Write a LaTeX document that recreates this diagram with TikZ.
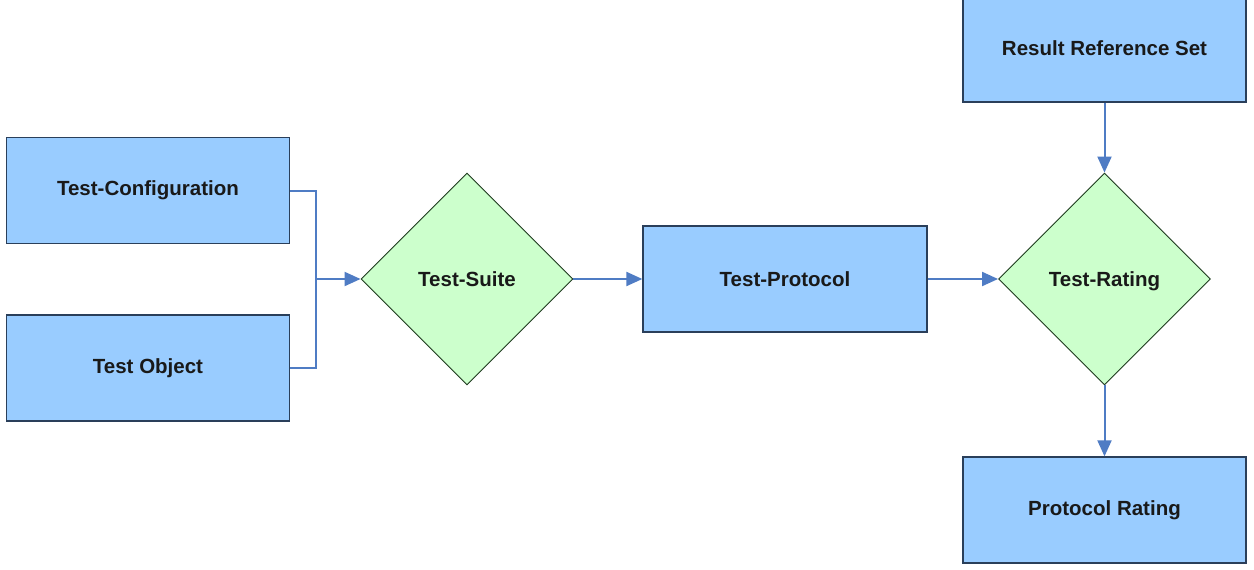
\documentclass[tikz,border=0pt]{standalone}
\usepackage{fontspec}
\setmainfont{Liberation Sans}
\usetikzlibrary{shapes.geometric,arrows.meta}
\definecolor{boxfill}{HTML}{99CCFF}
\definecolor{boxline}{HTML}{2A3F5A}
\definecolor{dfill}{HTML}{CCFFCC}
\definecolor{dline}{HTML}{1E3A1E}
\definecolor{conn}{HTML}{4F7CC4}
\begin{document}
\begin{tikzpicture}[x=1pt,y=-1pt,
  procbox/.style={draw=boxline, fill=boxfill, line width=1.3pt, inner sep=0pt,
    minimum width=283pt, minimum height=106pt,
    font=\fontsize{20.5}{24}\selectfont\bfseries, text=black!90},
  decbox/.style={diamond, aspect=1, draw=dline, fill=dfill, line width=0.9pt,
    inner sep=0pt, minimum width=212pt, minimum height=212pt,
    text height=14.8pt, text depth=0pt,
    font=\fontsize{20.5}{24}\selectfont\bfseries, text=black!90},
  link/.style={draw=conn, line width=2pt},
  arrow/.style={link, -{Triangle[length=16pt,width=14pt]}}]
\clip (0,0) rectangle (1254,570);
\fill[white] (0,0) rectangle (1254,570);
\node[procbox] (cfg) at (148,190.5) {Test-Configuration};
\node[procbox] (obj) at (148,368) {Test Object};
\node[decbox] (suite) at (467,279) {Test-Suite};
\node[procbox, minimum width=284pt] (proto) at (785,279) {Test-Protocol};
\node[decbox] (rating) at (1104.5,279) {Test-Rating};
\node[procbox, minimum height=108pt] (ref) at (1104.5,48) {Result Reference Set};
\node[procbox] (prate) at (1104.5,510) {Protocol Rating};
\coordinate (j) at (316,279);
\draw[link] (cfg.east) -| (j);
\draw[link] (obj.east) -| (j);
\draw[arrow] (j) -- (suite.west);
\draw[arrow] (suite.east) -- (proto.west);
\draw[arrow] (proto.east) -- (rating.west);
\draw[arrow] (ref.south) -- (rating.north);
\draw[arrow] (rating.south) -- (prate.north);
\end{tikzpicture}
\end{document}
